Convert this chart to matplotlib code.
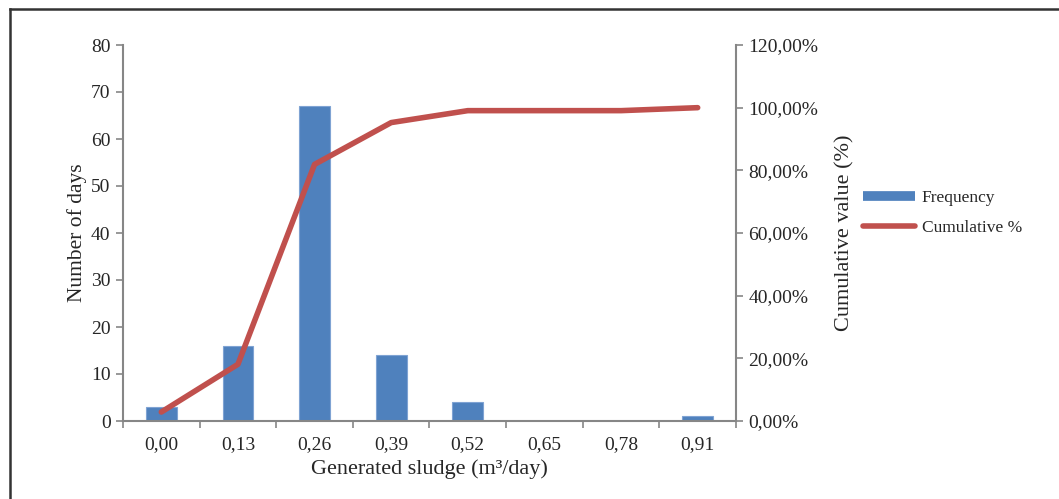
import matplotlib
matplotlib.use("Agg")
import matplotlib.pyplot as plt
from matplotlib.lines import Line2D
import numpy as np

categories = ["0,00", "0,13", "0,26", "0,39", "0,52", "0,65", "0,78", "0,91"]
frequency = [3, 16, 67, 14, 4, 0, 0, 1]
cumulative_pct = [2.86, 18.10, 81.90, 95.24, 99.05, 99.05, 99.05, 100.00]
left_ticks = [0, 10, 20, 30, 40, 50, 60, 70, 80]
right_ticks = [0, 20, 40, 60, 80, 100, 120]

BAR = "#4F81BD"
LINE = "#C0504D"
AX = "#868686"
TXT = "#262626"

plt.rcParams['font.family'] = ['Liberation Serif', 'DejaVu Serif']

fig = plt.figure(figsize=(10.59, 4.99), dpi=100)
ax = fig.add_axes([123/1059, 1-421/499, (736-123)/1059, (421-45)/499])

x = np.arange(len(categories))
ax.bar(x, frequency, width=0.40, color=BAR, edgecolor="#7FA3D3", linewidth=0.8, zorder=2)
ax.set_xlim(-0.5, len(categories) - 0.5)
ax.set_ylim(0, 80)
ax.set_yticks(left_ticks)
ax.set_xticks(x)
ax.set_xticklabels(categories)
ax.set_xticks(np.arange(-0.5, len(categories)), minor=True)
ax.tick_params(axis='x', which='major', length=0, pad=11, labelsize=14, colors=TXT)
ax.tick_params(axis='x', which='minor', length=5, width=1.2, color=AX, direction='out')
ax.tick_params(axis='y', length=5, width=1.2, color=AX, labelsize=14, labelcolor=TXT, pad=4)
for s in ['top', 'right']:
    ax.spines[s].set_visible(False)
for s in ['left', 'bottom']:
    ax.spines[s].set_color(AX)
    ax.spines[s].set_linewidth(1.5)
ax.set_ylabel("Number of days", fontsize=15.5, color=TXT, labelpad=3)
ax.set_xlabel("Generated sludge (m³/day)", fontsize=16, color=TXT, labelpad=4)

ax2 = ax.twinx()
ax2.plot(x, cumulative_pct, color=LINE, linewidth=4, solid_capstyle='round', zorder=3)
ax2.set_ylim(0, 120)
ax2.set_yticks(right_ticks)
ax2.set_yticklabels([f"{v},00%" for v in right_ticks])
ax2.tick_params(axis='y', length=5, width=1.2, color=AX, labelsize=14, labelcolor=TXT, pad=4)
for s in ['top', 'left', 'bottom']:
    ax2.spines[s].set_visible(False)
ax2.spines['right'].set_color(AX)
ax2.spines['right'].set_linewidth(1.5)
ax2.set_ylabel("Cumulative value (%)", fontsize=16, color=TXT, labelpad=12)

handles = [Line2D([0], [0], color=BAR, linewidth=7, solid_capstyle='butt'),
           Line2D([0], [0], color=LINE, linewidth=4, solid_capstyle='round')]
fig.legend(handles, ["Frequency", "Cumulative %"], loc='center left',
           bbox_to_anchor=(847/1059, 1-213/499), frameon=False, fontsize=12.5,
           handlelength=3.0, handletextpad=0.4, labelspacing=0.8, labelcolor=TXT)

# figure border (left and top only)
fig.add_artist(Line2D([10/1059, 10/1059], [0, 1-9/499], transform=fig.transFigure, color="#333333", linewidth=1.8))
fig.add_artist(Line2D([10/1059, 1], [1-9/499, 1-9/499], transform=fig.transFigure, color="#333333", linewidth=1.8))

fig.savefig("out.png", dpi=100)
